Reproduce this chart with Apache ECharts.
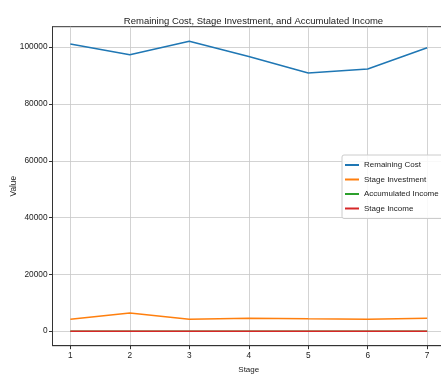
<!DOCTYPE html>
<html>
<head>
<meta charset="utf-8">
<script src="https://cdn.jsdelivr.net/npm/echarts@6/dist/echarts.min.js"></script>
<style>html,body{margin:0;padding:0;background:#fff}#c{width:441px;height:376px}</style>
</head>
<body>
<div id="c"></div>
<script>
const stages = [1, 2, 3, 4, 5, 6, 7];
const remainingCost = [101100, 97300, 102100, 96700, 90900, 92300, 99800];
const stageInvestment = [4200, 6450, 4200, 4550, 4350, 4200, 4550];
const accumulatedIncome = [0, 0, 0, 0, 0, 0, 0];
const stageIncome = [0, 0, 0, 0, 0, 0, 0];
const yTicks = [0, 20000, 40000, 60000, 80000, 100000];

const FONT = '"Liberation Sans", Arial, sans-serif';
const pair = arr => stages.map((s, i) => [s, arr[i]]);
const mk = (name, data, color) => ({
  name, type: 'line', data: pair(data), showSymbol: false, symbol: 'none',
  lineStyle: { color, width: 1.5 }, itemStyle: { color }, animation: false
});
const chart = echarts.init(document.getElementById('c'), null, { renderer: 'canvas' });
chart.setOption({
  animation: false,
  backgroundColor: '#fff',
  title: {
    text: 'Remaining Cost, Stage Investment, and Accumulated Income',
    left: 248.5, top: 11, textAlign: 'center',
    textStyle: { fontFamily: FONT, fontSize: 9.5, fontWeight: 'normal', color: '#222' }
  },
  grid: { left: 52.5, top: 26.7, right: -4, bottom: 30.3, show: true, borderColor: '#333', borderWidth: 1, containLabel: false, outerBoundsMode: 'none' },
  legend: {
    data: ['Remaining Cost', 'Stage Investment', 'Accumulated Income', 'Stage Income'],
    orient: 'vertical', left: 342, top: 155,
    backgroundColor: 'rgba(255,255,255,0.85)', borderColor: '#ccc', borderWidth: 1, borderRadius: 2,
    padding: [5, 6, 5, 3], itemGap: 4.5, itemWidth: 14, itemHeight: 10,
    icon: 'path://M0,0 L14,0 L14,2 L0,2 Z',
    textStyle: { fontFamily: FONT, fontSize: 8, color: '#222', lineHeight: 10 }
  },
  xAxis: {
    type: 'value', min: 0.7, max: 7.3,
    name: 'Stage', nameLocation: 'middle', nameGap: 20,
    nameTextStyle: { fontFamily: FONT, fontSize: 8, color: '#222' },
    axisLine: { show: true, onZero: false, lineStyle: { color: '#333', width: 1 } },
    axisTick: { show: true, length: 3.5, customValues: stages, lineStyle: { color: '#333' } },
    axisLabel: { customValues: stages, formatter: v => String(v), fontFamily: FONT, fontSize: 8.3, color: '#222', margin: 6 },
    splitLine: { show: true, lineStyle: { color: '#c8c8c8', width: 0.8 } }
  },
  yAxis: {
    type: 'value', min: -5105, max: 107205,
    name: 'Value', nameLocation: 'middle', nameGap: 35, nameRotate: 90, nameMoveOverlap: false,
    nameTextStyle: { fontFamily: FONT, fontSize: 8.3, color: '#222' },
    axisLine: { show: true, onZero: false, lineStyle: { color: '#333', width: 1 } },
    axisTick: { show: true, length: 3.5, customValues: yTicks, lineStyle: { color: '#333' } },
    axisLabel: { customValues: yTicks, formatter: v => String(v), fontFamily: FONT, fontSize: 8.3, color: '#222', margin: 5 },
    splitLine: { show: true, lineStyle: { color: '#c8c8c8', width: 0.8 } }
  },
  series: [
    mk('Remaining Cost', remainingCost, '#1f77b4'),
    mk('Stage Investment', stageInvestment, '#ff7f0e'),
    mk('Accumulated Income', accumulatedIncome, '#2ca02c'),
    mk('Stage Income', stageIncome, '#d62728')
  ]
});
</script>
</body>
</html>
